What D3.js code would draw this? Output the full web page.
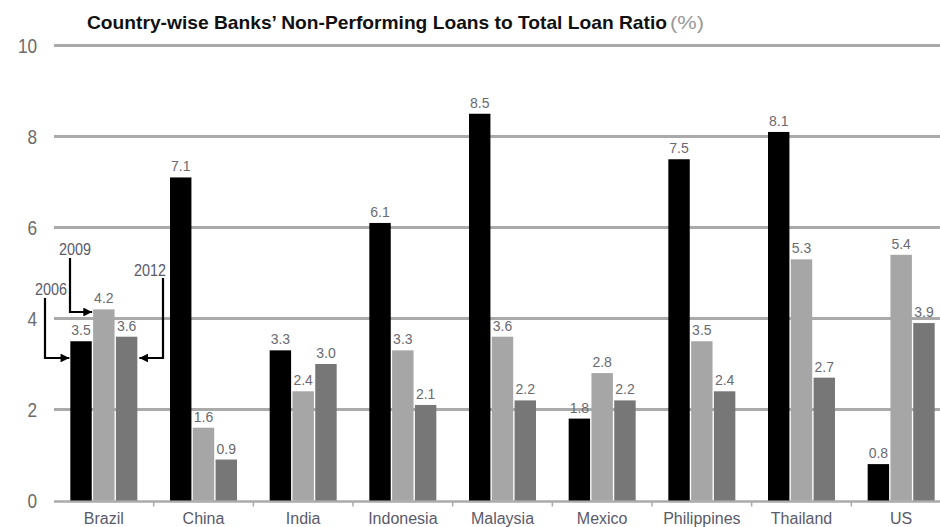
<!DOCTYPE html>
<html>
<head>
<meta charset="utf-8">
<script src="https://cdn.jsdelivr.net/npm/d3@7"></script>
<style>
  html, body { margin: 0; padding: 0; background: #fff; }
  svg { display: block; }
  text { font-family: "Liberation Sans", Arial, sans-serif; }
</style>
</head>
<body>
<svg id="chart" width="940" height="527"></svg>
<script>
// Non-performing loans as a share of total loans, by country (%)
const countries = ["Brazil", "China", "India", "Indonesia", "Malaysia", "Mexico", "Philippines", "Thailand", "US"];
const years = ["2006", "2009", "2012"];
const npl2006 = [3.5, 7.1, 3.3, 6.1, 8.5, 1.8, 7.5, 8.1, 0.8];
const npl2009 = [4.2, 1.6, 2.4, 3.3, 3.6, 2.8, 3.5, 5.3, 5.4];
const npl2012 = [3.6, 0.9, 3.0, 2.1, 2.2, 2.2, 2.4, 2.7, 3.9];
const yTicks = [0, 2, 4, 6, 8, 10];

const seriesValues = [npl2006, npl2009, npl2012];
const colors = ["#000000", "#a6a6a6", "#777777"];

const svg = d3.select("#chart");
const plotLeft = 54, plotRight = 951, plotTop = 45.5, plotBottom = 500.5;

const y = d3.scaleLinear().domain([0, 10]).range([plotBottom, plotTop]);
const x0 = d3.scaleBand().domain(countries).range([plotLeft, plotRight]).padding(0);
const groupW = 67;
const x1 = d3.scaleBand().domain(years).range([0, groupW]).paddingInner(0.06);

// horizontal gridlines
svg.append("g").selectAll("line")
  .data(yTicks.filter(d => d > 0))
  .join("line")
  .attr("x1", plotLeft).attr("x2", 940)
  .attr("y1", d => y(d)).attr("y2", d => y(d))
  .attr("stroke", "#aaaaaa").attr("stroke-width", 3);

// y tick labels (narrow face)
svg.append("g").selectAll("text")
  .data(yTicks)
  .join("text")
  .attr("transform", d => `translate(37,${y(d) + 7}) scale(0.86,1)`)
  .attr("text-anchor", "end")
  .attr("font-size", 20).attr("fill", "#6a6a6a")
  .text(d => d);

// x axis
const xAxis = d3.axisBottom(x0).tickSize(0).tickPadding(0).tickFormat(d => d);
const ax = svg.append("g").attr("transform", `translate(0,${plotBottom + 1})`).call(xAxis);
ax.select(".domain").attr("stroke", "#aaaaaa").attr("stroke-width", 2.5)
  .attr("d", `M${plotLeft},0H940`);
ax.selectAll("text").attr("font-size", 16).attr("fill", "#5a5a6a")
  .attr("dy", null).attr("y", 22)
  .style("font-family", '"Liberation Sans", Arial, sans-serif');
// tick marks between categories
svg.append("g").selectAll("line")
  .data(countries.slice(1))
  .join("line")
  .attr("x1", d => x0(d)).attr("x2", d => x0(d))
  .attr("y1", plotBottom + 1).attr("y2", plotBottom + 6)
  .attr("stroke", "#aaaaaa").attr("stroke-width", 1.5);

// bars
const groups = svg.append("g").selectAll("g")
  .data(countries)
  .join("g")
  .attr("transform", d => `translate(${x0(d) + (x0.bandwidth() - groupW) / 2},0)`);

groups.each(function(c, i) {
  const g = d3.select(this);
  years.forEach((yr, s) => {
    const v = seriesValues[s][i];
    g.append("rect")
      .attr("x", x1(yr)).attr("width", x1.bandwidth())
      .attr("y", y(v)).attr("height", y(0) - y(v))
      .attr("fill", colors[s]);
    g.append("text")
      .attr("x", x1(yr) + x1.bandwidth() / 2).attr("y", y(v) - 6)
      .attr("text-anchor", "middle")
      .attr("font-size", 14).attr("fill", "#6a6a72")
      .text(v.toFixed(1));
  });
});

// title
svg.append("text").attr("x", 87).attr("y", 29)
  .attr("font-size", 19).attr("font-weight", "bold").attr("fill", "#111")
  .attr("textLength", 580).attr("lengthAdjust", "spacingAndGlyphs")
  .text("Country-wise Banks\u2019 Non-Performing Loans to Total Loan Ratio");
svg.append("text").attr("x", 670).attr("y", 29)
  .attr("font-size", 18).attr("fill", "#9a9a9a")
  .attr("textLength", 34).attr("lengthAdjust", "spacingAndGlyphs")
  .text("(%)");

// year callouts on the Brazil group
svg.append("defs").append("marker")
  .attr("id", "arrow").attr("viewBox", "0 0 10 10")
  .attr("refX", 10).attr("refY", 5)
  .attr("markerWidth", 4.2).attr("markerHeight", 4)
  .attr("markerUnits", "strokeWidth")
  .attr("orient", "auto")
  .append("path").attr("d", "M0,0 L10,5 L0,10 Z").attr("fill", "#000");

const bx = x0("Brazil") + (x0.bandwidth() - groupW) / 2;
const callouts = [
  { label: years[0], tx: 35, ty: 295, lx: 45, y1: 298, y2: 358, ex: bx + x1(years[0]) - 1 },
  { label: years[1], tx: 59, ty: 255, lx: 70, y1: 258, y2: 312, ex: bx + x1(years[1]) - 1 },
  { label: years[2], tx: 134, ty: 276, lx: 163, y1: 278, y2: 358, ex: bx + x1(years[2]) + x1.bandwidth() + 2 }
];
const cg = svg.append("g");
callouts.forEach(c => {
  cg.append("text")
    .attr("transform", `translate(${c.tx},${c.ty}) scale(0.9,1)`)
    .attr("font-size", 16).attr("fill", "#5a5a6a").text(c.label);
  cg.append("path")
    .attr("d", `M${c.lx},${c.y1} V${c.y2} H${c.ex}`)
    .attr("fill", "none").attr("stroke", "#000").attr("stroke-width", 2.2)
    .attr("marker-end", "url(#arrow)");
});
</script>
</body>
</html>
